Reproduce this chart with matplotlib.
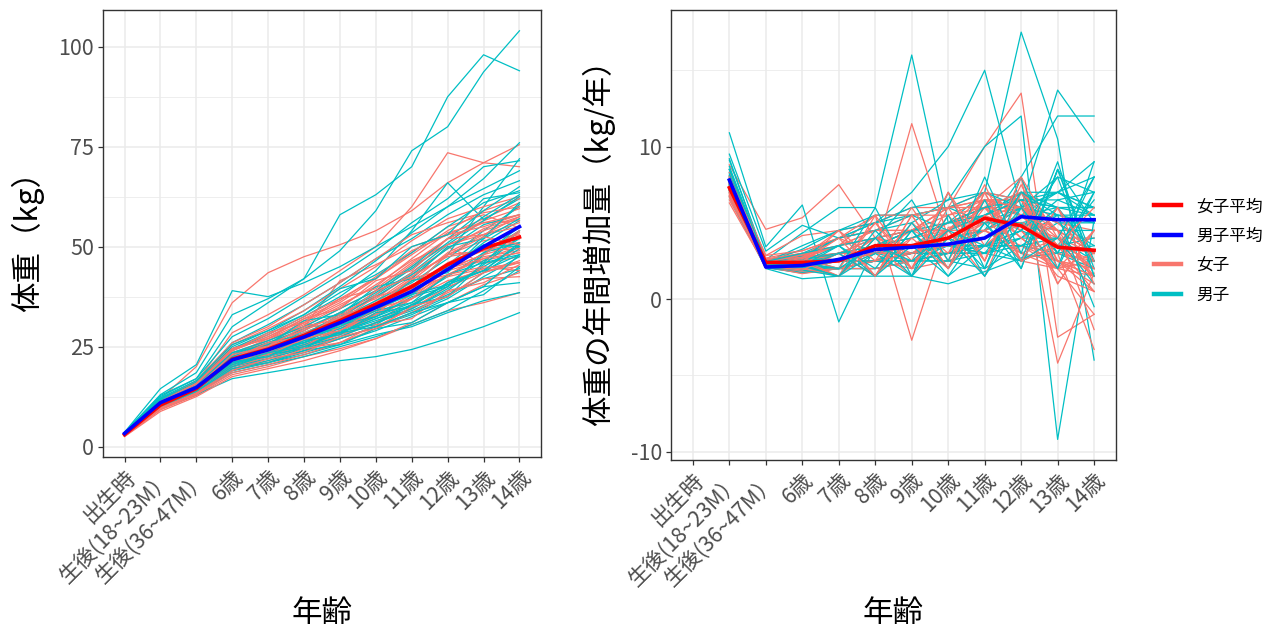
import numpy as np
import matplotlib
matplotlib.use("Agg")
import matplotlib.pyplot as plt
from matplotlib.lines import Line2D

plt.rcParams['font.family'] = ['Noto Sans CJK JP', 'DejaVu Sans']
plt.rcParams['axes.unicode_minus'] = False

ages = ["出生時", "生後(18~23M）", "生後(36~47M）", "6歳", "7歳", "8歳", "9歳",
        "10歳", "11歳", "12歳", "13歳", "14歳"]
# years between successive measurements (used for the annual gain)
step_years = [1.0, 1.75, 3.0, 1, 1, 1, 1, 1, 1, 1, 1]

# individual weights (kg), girls
girls = [
    [3.2, 12.0, 20.0, 36.0, 43.5, 47.5, 50.5, 54.0, 59.0, 66.0, 71.0, 75.5],
    [3.0, 11.0, 16.0, 28.5, 33.0, 38.0, 44.0, 50.0, 60.0, 73.5, 71.0, 70.0],
    [3.1, 10.6, 15.0, 23.0, 27.0, 30.0, 41.5, 45.5, 50.0, 53.0, 57.0, 61.0],
    [2.9, 10.0, 14.0, 22.0, 25.5, 31.0, 28.3, 33.0, 38.0, 43.0, 47.0, 50.0],
    [3.0, 10.2, 14.0, 21.0, 23.5, 27.0, 31.0, 36.0, 42.0, 50.0, 45.8, 47.5],
    [3.3, 11.2, 15.5, 24.0, 27.5, 31.5, 36.0, 42.0, 48.5, 55.0, 58.0, 54.7],
    [2.7, 9.2, 12.8, 18.0, 20.0, 22.5, 24.5, 27.0, 30.5, 34.0, 36.0, 38.5],
    [2.8, 9.8, 13.5, 19.5, 22.0, 24.5, 27.5, 31.0, 35.5, 41.0, 44.5, 46.0],
    [3.4, 11.0, 15.5, 24.5, 28.0, 32.5, 37.0, 42.0, 48.0, 54.0, 59.0, 62.0],
    [3.0, 10.5, 14.8, 22.5, 25.0, 28.0, 31.5, 36.5, 42.5, 48.0, 51.5, 53.0],
    [2.6, 9.5, 13.0, 20.0, 22.0, 25.0, 28.0, 31.0, 37.0, 41.5, 44.0, 45.0],
    [3.1, 10.8, 15.2, 23.5, 26.5, 30.0, 34.5, 39.0, 45.5, 52.0, 56.5, 59.5],
    [2.9, 10.1, 14.2, 21.5, 24.0, 27.0, 30.0, 34.0, 39.5, 45.5, 49.0, 51.0],
    [3.2, 11.3, 16.0, 25.5, 29.5, 34.0, 39.5, 45.0, 51.5, 57.0, 60.0, 62.5],
    [2.8, 9.6, 13.6, 20.5, 23.0, 25.5, 28.5, 32.5, 37.0, 43.0, 47.5, 49.0],
    [3.0, 10.4, 14.5, 22.0, 24.5, 28.5, 32.0, 36.0, 40.5, 44.0, 46.5, 48.5],
    [3.3, 10.9, 15.0, 23.0, 26.5, 30.5, 35.0, 40.5, 46.5, 50.5, 53.0, 55.0],
    [2.7, 9.4, 13.2, 19.0, 21.5, 24.0, 27.0, 30.0, 34.5, 40.0, 43.5, 46.5],
    [3.1, 10.7, 14.6, 21.0, 24.0, 27.5, 32.0, 38.0, 45.0, 50.5, 54.0, 57.0],
    [2.9, 10.0, 14.0, 21.0, 23.5, 26.0, 29.0, 33.5, 40.0, 46.0, 50.0, 52.0],
    [3.2, 11.5, 16.5, 26.0, 30.0, 35.5, 41.0, 47.0, 53.0, 56.0, 58.5, 60.0],
    [2.5, 8.8, 12.5, 17.5, 19.5, 21.5, 24.0, 27.0, 31.0, 36.0, 40.5, 43.5],
    [3.0, 10.3, 14.4, 22.5, 25.5, 29.5, 33.0, 37.5, 43.0, 47.5, 49.0, 49.5],
    [3.1, 10.6, 14.9, 23.0, 26.0, 29.0, 33.5, 37.0, 43.5, 49.5, 54.5, 57.5],
    [2.8, 9.9, 13.8, 20.0, 22.5, 25.5, 29.0, 33.0, 38.0, 44.5, 48.0, 50.5],
    [3.4, 11.4, 15.8, 24.5, 27.0, 31.0, 35.5, 40.0, 47.0, 53.5, 56.0, 56.5],
    [3.0, 10.1, 14.1, 21.5, 24.0, 26.5, 30.5, 35.0, 39.5, 42.5, 44.5, 46.0],
    [2.9, 10.5, 14.6, 22.0, 25.0, 28.0, 31.0, 35.5, 41.5, 48.5, 53.0, 56.0],
    [3.2, 11.1, 15.3, 24.0, 27.5, 32.0, 36.5, 42.5, 49.0, 53.0, 55.0, 58.0],
    [2.6, 9.3, 13.0, 18.5, 20.5, 23.0, 26.0, 29.5, 33.5, 38.5, 42.0, 42.5],
    [3.0, 10.0, 14.0, 21.0, 25.5, 27.0, 32.5, 34.5, 41.5, 44.0, 50.0, 51.0],
    [3.2, 10.8, 14.8, 22.5, 24.0, 29.5, 31.5, 37.5, 40.0, 48.0, 49.0, 53.5],
    [2.9, 10.3, 14.2, 20.5, 23.5, 25.0, 30.0, 33.0, 40.5, 43.0, 45.0, 44.0],
    [3.1, 10.9, 15.5, 24.5, 27.0, 32.0, 34.5, 41.5, 44.0, 52.0, 56.0, 58.0],
    [2.8, 9.7, 13.5, 19.5, 21.0, 24.5, 26.0, 30.5, 32.0, 39.0, 41.0, 45.5],
    [3.3, 11.3, 15.8, 24.0, 28.5, 31.0, 37.0, 39.5, 46.0, 52.0, 53.0, 57.5],
    [3.0, 10.2, 14.3, 21.5, 23.0, 27.0, 29.0, 34.5, 37.0, 44.5, 47.0, 48.5],
    [2.7, 9.5, 13.3, 19.0, 22.0, 23.5, 27.5, 29.5, 35.0, 37.5, 43.5, 46.0],
    [3.2, 11.0, 15.0, 23.0, 25.0, 30.0, 32.0, 39.0, 42.5, 48.0, 52.5, 50.5],
    [3.0, 10.6, 14.6, 22.0, 26.0, 27.5, 33.0, 35.0, 42.0, 44.5, 48.0, 54.0],
]

# individual weights (kg), boys
boys = [
    [3.4, 12.5, 17.0, 30.0, 36.0, 42.0, 58.0, 63.0, 70.0, 87.5, 98.0, 94.0],
    [3.5, 13.0, 18.5, 33.0, 37.0, 42.0, 49.0, 59.0, 74.0, 80.0, 93.7, 104.0],
    [3.2, 11.5, 15.5, 24.0, 28.0, 32.5, 37.5, 44.0, 54.0, 66.0, 56.8, 62.0],
    [3.6, 14.5, 20.5, 39.0, 37.5, 41.0, 45.0, 50.0, 55.0, 60.0, 64.5, 69.0],
    [3.0, 11.0, 15.0, 22.0, 25.0, 28.0, 31.5, 35.5, 40.0, 48.0, 60.0, 72.0],
    [3.3, 11.8, 16.0, 25.0, 29.0, 34.0, 40.0, 46.5, 53.5, 60.0, 67.0, 76.0],
    [2.8, 9.5, 13.0, 17.0, 18.5, 20.0, 21.5, 22.5, 24.3, 27.0, 30.0, 33.5],
    [3.0, 10.0, 13.8, 19.0, 21.0, 23.0, 25.5, 28.0, 30.0, 33.5, 36.5, 38.5],
    [3.1, 10.5, 14.2, 20.5, 23.0, 25.5, 28.0, 31.0, 34.5, 39.5, 45.0, 50.0],
    [3.2, 10.8, 14.6, 21.0, 23.5, 26.5, 29.5, 33.0, 37.0, 42.5, 48.5, 54.0],
    [3.4, 11.2, 15.2, 22.5, 25.5, 28.5, 32.0, 36.5, 41.0, 47.0, 54.0, 60.0],
    [2.9, 10.2, 14.0, 20.0, 22.0, 24.5, 27.0, 30.0, 33.0, 37.0, 42.5, 47.5],
    [3.0, 10.6, 14.4, 21.5, 24.0, 27.0, 30.5, 34.0, 38.5, 44.0, 51.0, 56.5],
    [3.5, 12.0, 16.2, 26.0, 30.5, 35.5, 41.0, 47.0, 52.0, 58.0, 63.0, 66.5],
    [3.1, 10.4, 14.0, 20.0, 22.5, 25.0, 27.5, 31.0, 34.0, 38.0, 42.0, 44.5],
    [3.3, 11.0, 14.8, 21.5, 24.0, 27.5, 31.0, 35.0, 39.5, 45.5, 52.5, 60.5],
    [2.7, 9.8, 13.4, 18.5, 20.5, 22.5, 25.0, 27.5, 30.5, 34.0, 39.0, 44.0],
    [3.2, 10.9, 14.9, 22.0, 25.0, 29.0, 33.5, 38.0, 43.5, 50.5, 56.5, 62.5],
    [3.0, 10.3, 14.1, 20.5, 22.5, 25.0, 28.5, 32.0, 35.0, 41.0, 46.5, 52.0],
    [3.6, 12.8, 17.0, 27.5, 32.0, 37.5, 43.0, 49.0, 56.0, 62.0, 70.0, 71.5],
    [3.1, 10.7, 14.5, 21.0, 23.5, 26.0, 29.0, 32.5, 36.0, 40.5, 44.0, 48.0],
    [2.9, 10.1, 13.9, 19.5, 21.5, 24.0, 27.0, 30.0, 33.5, 37.5, 43.5, 49.5],
    [3.3, 11.4, 15.5, 23.5, 26.5, 30.0, 34.5, 39.0, 45.0, 52.0, 59.0, 65.0],
    [3.0, 10.5, 14.3, 21.0, 23.0, 26.0, 28.5, 31.5, 34.5, 39.0, 45.5, 52.5],
    [3.4, 11.9, 16.0, 24.5, 28.5, 33.0, 38.5, 43.0, 48.5, 55.0, 61.0, 64.0],
    [3.2, 11.0, 14.8, 21.5, 24.5, 27.5, 31.0, 35.0, 38.0, 40.5, 44.0, 50.5],
    [2.8, 9.9, 13.5, 19.0, 21.0, 23.5, 26.0, 29.0, 32.5, 36.0, 40.0, 41.0],
    [3.1, 10.8, 14.7, 22.0, 24.5, 28.0, 32.5, 37.5, 43.0, 49.5, 55.5, 58.0],
    [3.0, 10.4, 14.2, 20.5, 23.0, 25.5, 28.5, 32.0, 35.5, 40.0, 48.0, 55.0],
    [3.3, 11.3, 15.3, 23.0, 26.0, 29.5, 33.5, 38.5, 44.5, 51.0, 57.5, 63.0],
    [3.2, 10.9, 14.7, 21.5, 23.0, 27.5, 29.5, 34.0, 36.0, 43.0, 46.0, 54.0],
    [3.0, 10.4, 14.0, 20.0, 23.0, 24.5, 29.0, 30.5, 35.5, 37.5, 46.0, 48.0],
    [3.4, 11.6, 15.5, 23.5, 25.5, 31.5, 33.0, 40.0, 42.0, 50.0, 52.0, 61.0],
    [3.1, 10.6, 14.5, 21.0, 24.5, 26.0, 30.5, 32.5, 37.5, 40.0, 48.5, 51.0],
    [2.9, 10.1, 13.8, 19.5, 21.0, 24.0, 25.5, 29.5, 31.0, 36.0, 38.0, 45.0],
    [3.3, 11.2, 15.2, 22.5, 26.0, 28.0, 33.0, 35.0, 41.5, 43.5, 52.0, 57.0],
    [3.0, 10.7, 14.5, 21.0, 22.5, 26.5, 28.0, 33.5, 35.0, 41.0, 44.0, 51.0],
    [3.5, 12.2, 16.5, 25.5, 29.0, 33.0, 39.5, 42.0, 50.0, 53.0, 62.0, 63.5],
    [3.1, 10.5, 14.3, 20.5, 23.5, 25.0, 28.5, 30.0, 33.5, 36.0, 40.0, 48.0],
    [3.2, 11.0, 14.9, 22.0, 24.0, 27.5, 30.0, 34.5, 38.0, 45.0, 50.5, 50.0],
]

girls_mean = [3.0, 10.4, 14.5, 21.9, 24.4, 27.8, 31.5, 35.6, 40.0, 45.5, 49.6, 52.4]
boys_mean = [3.3, 11.0, 14.8, 21.7, 24.2, 27.4, 31.0, 34.8, 38.8, 44.3, 50.0, 55.0]
# mean annual gain (kg/year), from 生後(18~23M) onwards
girls_gain_mean = [7.3, 2.4, 2.4, 2.5, 3.5, 3.5, 4.0, 5.3, 4.8, 3.4, 3.2]
boys_gain_mean = [7.8, 2.1, 2.2, 2.6, 3.25, 3.4, 3.6, 4.0, 5.4, 5.2, 5.2]

PINK = "#F8766D"
CYAN = "#00BFC4"
GRID = "#EBEBEB"
DARK = "#333333"

fig = plt.figure(figsize=(12.63, 6.35), dpi=100)
ax1 = fig.add_axes([103/1263, 1-457/635, 438/1263, 447/635])
ax2 = fig.add_axes([671/1263, 1-460/635, 445/1263, 450/635])

x = np.arange(len(ages))
xg = x[1:]
steps = np.array(step_years)

for g, b in zip(girls, boys):
    ax1.plot(x, g, color=PINK, lw=0.9)
    ax1.plot(x, b, color=CYAN, lw=0.9)
    ax2.plot(xg, np.diff(g) / steps, color=PINK, lw=0.9)
    ax2.plot(xg, np.diff(b) / steps, color=CYAN, lw=0.9)

ax1.plot(x, girls_mean, color="red", lw=2.6)
ax1.plot(x, boys_mean, color="blue", lw=2.6)
ax2.plot(xg, girls_gain_mean, color="red", lw=2.6)
ax2.plot(xg, boys_gain_mean, color="blue", lw=2.6)

ax1.set_ylim(-2.6, 109.2)
ax1.set_yticks([0, 25, 50, 75, 100])
ax1.set_yticks([12.5, 37.5, 62.5, 87.5], minor=True)
ax2.set_ylim(-10.55, 18.95)
ax2.set_yticks([-10, 0, 10])
ax2.set_yticks([-5, 5, 15], minor=True)

for ax in (ax1, ax2):
    ax.set_xlim(-0.6, len(ages) - 0.4)
    ax.set_xticks(x)
    ax.set_xticklabels(ages, rotation=45, ha="right", rotation_mode="anchor")
    ax.set_axisbelow(True)
    ax.grid(True, which="major", color=GRID, lw=1.1)
    ax.grid(True, which="minor", axis="y", color=GRID, lw=0.6)
    for s in ax.spines.values():
        s.set_color(DARK)
        s.set_linewidth(1.0)
    ax.tick_params(which="major", length=3.5, width=0.9, color=DARK,
                   labelsize=15.5, labelcolor="#4D4D4D", pad=3)
    ax.tick_params(which="minor", length=0)
    ax.set_xlabel("年齢", fontsize=22)
    ax.xaxis.label.set_va("center")
    ax.xaxis.set_label_coords(0.5, -(614 - 457) / 447 if ax is ax1 else -(614 - 460) / 450)

ax1.set_ylabel("体重（kg）", fontsize=22, va="center")
ax1.yaxis.set_label_coords(-0.172, 0.5)
ax2.set_ylabel("体重の年間増加量（kg/年）", fontsize=22, va="center")
ax2.yaxis.set_label_coords(-0.162, 0.5)

handles = [Line2D([], [], color=c, lw=3.2) for c in ("red", "blue", PINK, CYAN)]
labels = ["女子平均", "男子平均", "女子", "男子"]
fig.legend(handles, labels, loc="center left", bbox_to_anchor=(1146/1263, 1-251/635),
           frameon=False, fontsize=12, handlelength=1.6, handletextpad=0.9,
           labelspacing=0.75, borderpad=0)

fig.savefig("out.png", dpi=100)
